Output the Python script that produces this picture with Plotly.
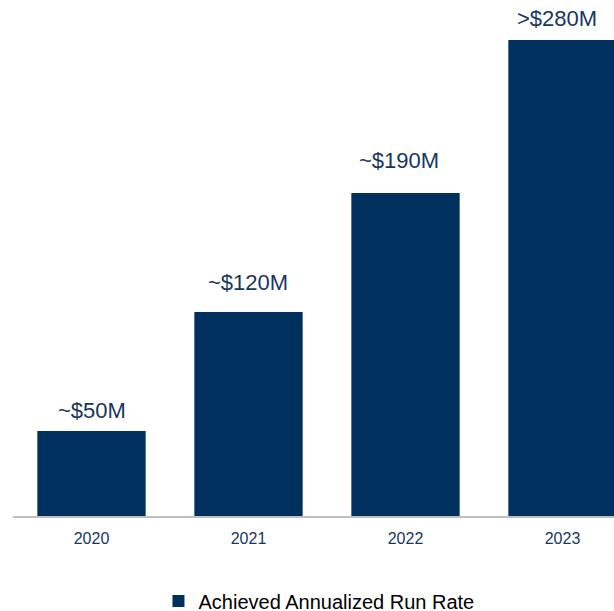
import plotly.graph_objects as go

years = ["2020", "2021", "2022", "2023"]
values = [50, 120, 190, 280]
labels = ["~$50M", "~$120M", "~$190M", ">$280M"]
series_name = "Achieved Annualized Run Rate"

bar_color = "#00305E"
text_color = "#17375E"
font_family = "Liberation Sans, Arial, sans-serif"

# per-label nudges (pixels) to match the original placement
label_yshift = [6, 15, 18, 7]
label_xshift = [0, -1, -7, -6]

fig = go.Figure()
fig.add_trace(go.Bar(
    x=years, y=values, name=series_name,
    marker=dict(color=bar_color, line=dict(width=0)),
    showlegend=True,
))

# category axis: annotations positioned by category index
for i, (v, lab) in enumerate(zip(values, labels)):
    fig.add_annotation(
        x=i, y=v, text=lab, showarrow=False,
        xref="x", yref="y", yanchor="bottom",
        yshift=label_yshift[i], xshift=label_xshift[i],
        font=dict(size=22, color=text_color, family=font_family),
    )

fig.update_layout(
    width=614, height=611,
    margin=dict(l=13, r=0, t=0, b=95),
    paper_bgcolor="white", plot_bgcolor="white",
    bargap=0.31,
    font=dict(family=font_family, color=text_color),
    xaxis=dict(
        type="category", range=[-0.5, 3.328],
        showline=True, linecolor="#BFBFBF", linewidth=2,
        showgrid=False, zeroline=False, ticks="",
        tickfont=dict(size=16, color=text_color, family=font_family),
        ticklabelstandoff=7,
    ),
    yaxis=dict(
        range=[0, 303.5], showticklabels=False, showline=False,
        showgrid=False, zeroline=False, ticks="",
    ),
    legend=dict(
        orientation="h", x=0.5195, xanchor="center", xref="container",
        y=1 - 601 / 611, yanchor="middle", yref="container",
        font=dict(size=20, color="#000000", family=font_family),
        bgcolor="rgba(0,0,0,0)",
    ),
)

fig.write_html("out.html", config={"displayModeBar": False},
               post_script="document.body.style.margin='0';")
